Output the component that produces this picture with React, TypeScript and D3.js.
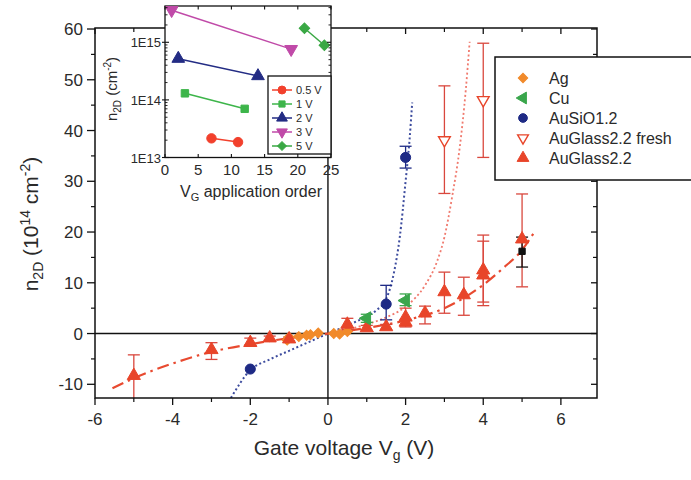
import React from 'react';
import * as d3 from 'd3';

// ---------- data ----------
const xMajorTicks = [-6, -4, -2, 0, 2, 4, 6];
const xMinorTicks = [-5, -3, -1, 1, 3, 5];
const yMajorTicks = [-10, 0, 10, 20, 30, 40, 50, 60];
const yMinorTicks = [-5, 5, 15, 25, 35, 45, 55];

// [V, n]
const agData: number[][] = [
  [-1.05, -1.3], [-1.0, -0.7], [-0.75, -0.6], [-0.55, -0.35], [-0.45, -0.25],
  [-0.25, 0.1], [0.15, 0.0], [0.3, -0.1], [0.5, 0.4],
];
// [V, n, lo, hi]
const cuData: number[][] = [
  [1.0, 3.0, 2.2, 3.8],
  [2.0, 6.5, 5.5, 7.8],
];
const auSiOData: number[][] = [
  [-2.0, -7.0, -7.0, -7.0],
  [1.5, 5.8, 2.7, 9.5],
  [2.0, 34.7, 32.6, 36.9],
];
const freshData: number[][] = [
  [3.0, 38.1, 27.6, 48.8],
  [4.0, 46.0, 34.7, 57.2],
];
const auGlassData: number[][] = [
  [-5.0, -8.3, -13.5, -4.2],
  [-3.0, -3.2, -5.1, -1.8],
  [-2.0, -1.8, -2.4, -0.9],
  [-1.5, -0.9, -1.3, -0.5],
  [-1.0, -1.1, -1.5, -0.7],
  [0.5, 1.8, 0.8, 3.0],
  [1.0, 1.1, 0.6, 1.6],
  [1.5, 1.3, 0.8, 1.8],
  [2.0, 3.2, 1.3, 5.0],
  [2.0, 2.2, 1.6, 2.8],
  [2.5, 4.0, 1.9, 5.4],
  [3.0, 8.2, 4.0, 12.1],
  [3.5, 7.6, 3.6, 11.1],
  [4.0, 12.5, 6.2, 19.4],
  [4.0, 11.5, 5.5, 18.2],
  [5.0, 18.6, 9.2, 27.5],
];
const blackData: number[][] = [[5.0, 16.2, 13.1, 19.0]];

// fitted curves
const blueCurve: number[][] = [
  [-2.5, -12.7], [-2.0, -7.2], [-1.5, -5.1], [-1.0, -3.4], [-0.5, -1.7], [0, 0],
  [0.5, 1.6], [1.0, 3.4], [1.25, 4.6], [1.5, 6.8], [1.7, 12.0], [1.85, 19.0],
  [2.0, 30.0], [2.1, 38.0], [2.17, 45.5],
];
const redDotCurve: number[][] = [
  [0, 0], [0.5, 0.8], [1.0, 1.8], [1.5, 3.2], [2.0, 5.3], [2.5, 9.5], [2.8, 14.0],
  [3.0, 19.0], [3.2, 27.0], [3.4, 37.0], [3.55, 48.0], [3.65, 57.5],
];
const dashDotCurve: number[][] = [
  [-5.55, -10.8], [-5.0, -8.8], [-4.0, -5.9], [-3.0, -3.6], [-2.0, -2.1], [-1.0, -0.9],
  [0, 0], [1.0, 1.1], [2.0, 2.6], [3.0, 5.0], [4.0, 9.6], [4.5, 12.8], [5.0, 16.5], [5.3, 19.8],
];

// inset: [application order, n2D (cm^-2)]
const insetLabels = ['0.5 V', '1 V', '2 V', '3 V', '5 V'];
const inset05: number[][] = [[7, 2.15e13], [11, 1.85e13]];
const inset1: number[][] = [[3, 1.3e14], [12, 7.0e13]];
const inset2: number[][] = [[2, 5.2e14], [14, 2.6e14]];
const inset3: number[][] = [[1, 3.6e15], [19, 7.6e14]];
const inset5: number[][] = [[21, 1.75e15], [24, 8.9e14]];
const insetXTicks = [0, 5, 10, 15, 20, 25];
const insetYTicks = [1e13, 1e14, 1e15];
const insetYTickLabels = ['1E13', '1E14', '1E15'];

const legendNames = ['Ag', 'Cu', 'AuSiO1.2', 'AuGlass2.2 fresh', 'AuGlass2.2'];

// ---------- styling ----------
const FONT = '"Liberation Sans", Arial, Helvetica, sans-serif';
const C_AG = '#f18a2a';
const C_CU = '#3aa64c';
const C_SIO = '#1e2a85';
const C_RED = '#e8452a';
const C_ERR = '#d9473d';
const TXT = '#2a2a2a';

const X0 = 95, X1 = 597, Y0 = 28, Y1 = 398;

type Sym = 'circle' | 'square' | 'up' | 'down' | 'left' | 'diamond';
function symPath(s: Sym, size: number) {
  const t = s === 'circle' ? d3.symbolCircle : (s === 'square' || s === 'diamond') ? d3.symbolSquare
    : d3.symbolTriangle;
  return d3.symbol().type(t).size(size)() as string;
}
function symRot(s: Sym) {
  return s === 'down' ? 180 : s === 'left' ? -90 : s === 'diamond' ? 45 : 0;
}
function Marker({ x, y, s, fill, stroke, size = 70, sw = 1 }: any) {
  return (
    <path d={symPath(s, size)} transform={`translate(${x},${y}) rotate(${symRot(s)})`}
      fill={fill} stroke={stroke || fill} strokeWidth={sw} />
  );
}

export default function App() {
  const x = d3.scaleLinear().domain([-6, 6.93]).range([X0, X1]);
  const y = d3.scaleLinear().domain([-12.7, 60.2]).range([Y1, Y0]);

  const line = d3.line<number[]>().x(d => x(d[0])).y(d => y(d[1])).curve(d3.curveMonotoneX);

  const ix = d3.scaleLinear().domain([0, 25]).range([165, 331]);
  const iy = d3.scaleLog().domain([1e13, Math.pow(10, 15.63)]).range([157.5, 6]);
  const iline = d3.line<number[]>().x(d => ix(d[0])).y(d => iy(d[1]));

  const errBars = (data: number[][], color: string, key: string, cap = 6) =>
    data.filter(d => d[2] !== d[3]).map((d, i) => (
      <g key={key + i} stroke={color} strokeWidth={1.3}>
        <line x1={x(d[0])} x2={x(d[0])} y1={y(d[2])} y2={y(d[3])} />
        <line x1={x(d[0]) - cap} x2={x(d[0]) + cap} y1={y(d[2])} y2={y(d[2])} />
        <line x1={x(d[0]) - cap} x2={x(d[0]) + cap} y1={y(d[3])} y2={y(d[3])} />
      </g>
    ));

  const insetSeries = [
    { d: inset05, c: '#f2402c', s: 'circle' as Sym },
    { d: inset1, c: '#3db54a', s: 'square' as Sym },
    { d: inset2, c: '#232c84', s: 'up' as Sym },
    { d: inset3, c: '#c04aa8', s: 'down' as Sym },
    { d: inset5, c: '#3aa844', s: 'diamond' as Sym },
  ];

  const logMinor: number[] = [];
  [1e13, 1e14, 1e15].forEach(dec => {
    for (let k = 2; k <= 9; k++) {
      const v = dec * k;
      if (v < Math.pow(10, 15.63)) logMinor.push(v);
    }
  });

  const legendSyms: { s: Sym; fill: string; stroke: string }[] = [
    { s: 'diamond', fill: C_AG, stroke: C_AG },
    { s: 'left', fill: C_CU, stroke: C_CU },
    { s: 'circle', fill: C_SIO, stroke: C_SIO },
    { s: 'down', fill: 'white', stroke: C_RED },
    { s: 'up', fill: C_RED, stroke: C_RED },
  ];

  return (
    <svg width={691} height={480} style={{ display: 'block', position: 'absolute', left: 0, top: 0 }}
      fontFamily={FONT}>
      <rect x={0} y={0} width={691} height={480} fill="white" />
      <defs>
        <clipPath id="plotClip">
          <rect x={X0} y={Y0} width={X1 - X0} height={Y1 - Y0} />
        </clipPath>
      </defs>

      {/* zero lines */}
      <line x1={X0} x2={X1} y1={y(0)} y2={y(0)} stroke="#111" strokeWidth={1.4} />
      <line x1={x(0)} x2={x(0)} y1={Y0} y2={Y1} stroke="#111" strokeWidth={1.4} />

      {/* curves */}
      <g clipPath="url(#plotClip)" fill="none">
        <path d={line(blueCurve) as string} stroke="#3d4c9e" strokeWidth={2} strokeDasharray="2,2.5" />
        <path d={line(redDotCurve) as string} stroke="#f07a6e" strokeWidth={1.8} strokeDasharray="2,2.5" />
        <path d={line(dashDotCurve) as string} stroke="#e84a30" strokeWidth={2.2} strokeDasharray="12,5,2.5,5" />
      </g>

      {/* error bars */}
      <g clipPath="url(#plotClip)">
        {errBars(auGlassData, C_ERR, 'ag')}
        {errBars(freshData, C_ERR, 'fr')}
        {errBars(cuData, C_CU, 'cu')}
        {errBars(auSiOData, C_SIO, 'si')}
        {errBars(blackData, '#111', 'bk')}
      </g>

      {/* markers */}
      <g clipPath="url(#plotClip)">
        {agData.map((d, i) => <Marker key={'a' + i} x={x(d[0])} y={y(d[1])} s="diamond" fill={C_AG} size={50} />)}
        {auGlassData.map((d, i) => <Marker key={'g' + i} x={x(d[0])} y={y(d[1])} s="up" fill={C_RED} size={75} />)}
        {cuData.map((d, i) => <Marker key={'c' + i} x={x(d[0])} y={y(d[1])} s="left" fill={C_CU} size={75} />)}
        {auSiOData.map((d, i) => <Marker key={'s' + i} x={x(d[0])} y={y(d[1])} s="circle" fill={C_SIO} size={80} />)}
        {freshData.map((d, i) => <Marker key={'f' + i} x={x(d[0])} y={y(d[1])} s="down" fill="white" stroke={C_RED} size={60} sw={1.4} />)}
        {blackData.map((d, i) => <Marker key={'b' + i} x={x(d[0])} y={y(d[1])} s="square" fill="#111" size={40} />)}
      </g>

      {/* frame */}
      <rect x={X0} y={Y0} width={X1 - X0} height={Y1 - Y0} fill="none" stroke="#111" strokeWidth={1.5} />

      {/* bottom axis */}
      {xMajorTicks.map(t => (
        <g key={'xt' + t}>
          <line x1={x(t)} x2={x(t)} y1={Y1} y2={Y1 + 7} stroke="#111" strokeWidth={1.3} />
          <line x1={x(t)} x2={x(t)} y1={Y0} y2={Y0 + 6} stroke="#111" strokeWidth={1.3} />
          <text x={x(t)} y={425} textAnchor="middle" fontSize={17} fill={TXT}>{t}</text>
        </g>
      ))}
      {xMinorTicks.map(t => (
        <g key={'xm' + t}>
          <line x1={x(t)} x2={x(t)} y1={Y1} y2={Y1 + 4} stroke="#111" strokeWidth={1.2} />
          <line x1={x(t)} x2={x(t)} y1={Y0} y2={Y0 + 4} stroke="#111" strokeWidth={1.2} />
        </g>
      ))}

      {/* left axis */}
      {yMajorTicks.map(t => (
        <g key={'yt' + t}>
          <line x1={X0 - 8} x2={X0} y1={y(t)} y2={y(t)} stroke="#111" strokeWidth={1.3} />
          <line x1={X1 - 6} x2={X1} y1={y(t)} y2={y(t)} stroke="#111" strokeWidth={1.3} />
          <text x={83} y={y(t) + 6} textAnchor="end" fontSize={17} fill={TXT}>{t}</text>
        </g>
      ))}
      {yMinorTicks.map(t => (
        <g key={'ym' + t}>
          <line x1={X0 - 4} x2={X0} y1={y(t)} y2={y(t)} stroke="#111" strokeWidth={1.2} />
          <line x1={X1 - 4} x2={X1} y1={y(t)} y2={y(t)} stroke="#111" strokeWidth={1.2} />
        </g>
      ))}

      {/* axis titles */}
      <text x={344} y={455} textAnchor="middle" fontSize={21} fill={TXT}>
        Gate voltage V<tspan fontSize={14} dy={5}>g</tspan><tspan dy={-5}> (V)</tspan>
      </text>
      <text transform={`translate(38,224) rotate(-90)`} textAnchor="middle" fontSize={21} fill={TXT}>
        n<tspan fontSize={14} dy={5}>2D</tspan><tspan dy={-5}> (10</tspan><tspan fontSize={14} dy={-8}>14</tspan>
        <tspan dy={8}> cm</tspan><tspan fontSize={14} dy={-8}>-2</tspan><tspan dy={8}>)</tspan>
      </text>

      {/* main legend */}
      <rect x={495} y={57} width={210} height={123} fill="white" stroke="#111" strokeWidth={1.5} />
      {legendNames.map((n, i) => {
        const ly = 78 + i * 20;
        const s = legendSyms[i];
        return (
          <g key={'lg' + i}>
            <Marker x={523} y={ly} s={s.s} fill={s.fill} stroke={s.stroke} size={s.s === 'down' ? 50 : s.s === 'diamond' ? 45 : 60} sw={s.s === 'down' ? 1.4 : 1} />
            <text x={549} y={ly + 6} fontSize={16} fill={TXT}>{n}</text>
          </g>
        );
      })}

      {/* ---------- inset ---------- */}
      <rect x={ix(0)} y={6} width={ix(25) - ix(0)} height={157.5 - 6} fill="white" stroke="#111" strokeWidth={1.3} />
      {insetSeries.map((sr, i) => (
        <g key={'is' + i}>
          <path d={iline(sr.d) as string} stroke={sr.c} strokeWidth={1.5} fill="none" />
          {sr.d.map((d, j) => (
            <Marker key={j} x={ix(d[0])} y={iy(d[1])} s={sr.s} fill={sr.c} size={sr.s === 'square' || sr.s === 'diamond' ? 55 : 70} />
          ))}
        </g>
      ))}
      {insetXTicks.map(t => (
        <g key={'ixt' + t}>
          <line x1={ix(t)} x2={ix(t)} y1={157.5} y2={154} stroke="#111" strokeWidth={1.1} />
          <line x1={ix(t)} x2={ix(t)} y1={6} y2={9.5} stroke="#111" strokeWidth={1.1} />
          <text x={ix(t)} y={175} textAnchor="middle" fontSize={15} fill={TXT}>{t}</text>
        </g>
      ))}
      {insetYTicks.map((t, i) => (
        <g key={'iyt' + t}>
          <line x1={ix(0) - 3} x2={ix(0) + 4} y1={iy(t)} y2={iy(t)} stroke="#111" strokeWidth={1.1} />
          <line x1={ix(25) - 4} x2={ix(25)} y1={iy(t)} y2={iy(t)} stroke="#111" strokeWidth={1.1} />
          <text x={161} y={iy(t) + 5} textAnchor="end" fontSize={13} fill={TXT}>{insetYTickLabels[i]}</text>
        </g>
      ))}
      {logMinor.map(t => (
        <g key={'iym' + t}>
          <line x1={ix(0)} x2={ix(0) + 2.5} y1={iy(t)} y2={iy(t)} stroke="#111" strokeWidth={0.9} />
          <line x1={ix(25) - 2.5} x2={ix(25)} y1={iy(t)} y2={iy(t)} stroke="#111" strokeWidth={0.9} />
        </g>
      ))}
      <text x={251} y={197} textAnchor="middle" fontSize={16} fill={TXT}>
        V<tspan fontSize={11} dy={4}>G</tspan><tspan dy={-4}> application order</tspan>
      </text>
      <text transform={`translate(117,89) rotate(-90)`} textAnchor="middle" fontSize={15} fill={TXT}>
        n<tspan fontSize={10} dy={4}>2D</tspan><tspan dy={-4}> (cm</tspan><tspan fontSize={10} dy={-6}>-2</tspan><tspan dy={6}>)</tspan>
      </text>

      {/* inset legend */}
      <rect x={268} y={76} width={63} height={78} fill="white" stroke="#111" strokeWidth={1.3} />
      {insetSeries.map((sr, i) => {
        const ly = 90 + i * 14;
        return (
          <g key={'il' + i}>
            <line x1={272} x2={292} y1={ly} y2={ly} stroke={sr.c} strokeWidth={1.5} />
            <Marker x={282} y={ly} s={sr.s} fill={sr.c} size={sr.s === 'square' || sr.s === 'diamond' ? 38 : 50} />
            <text x={296} y={ly + 4} fontSize={11} fill={TXT}>{insetLabels[i]}</text>
          </g>
        );
      })}
    </svg>
  );
}
